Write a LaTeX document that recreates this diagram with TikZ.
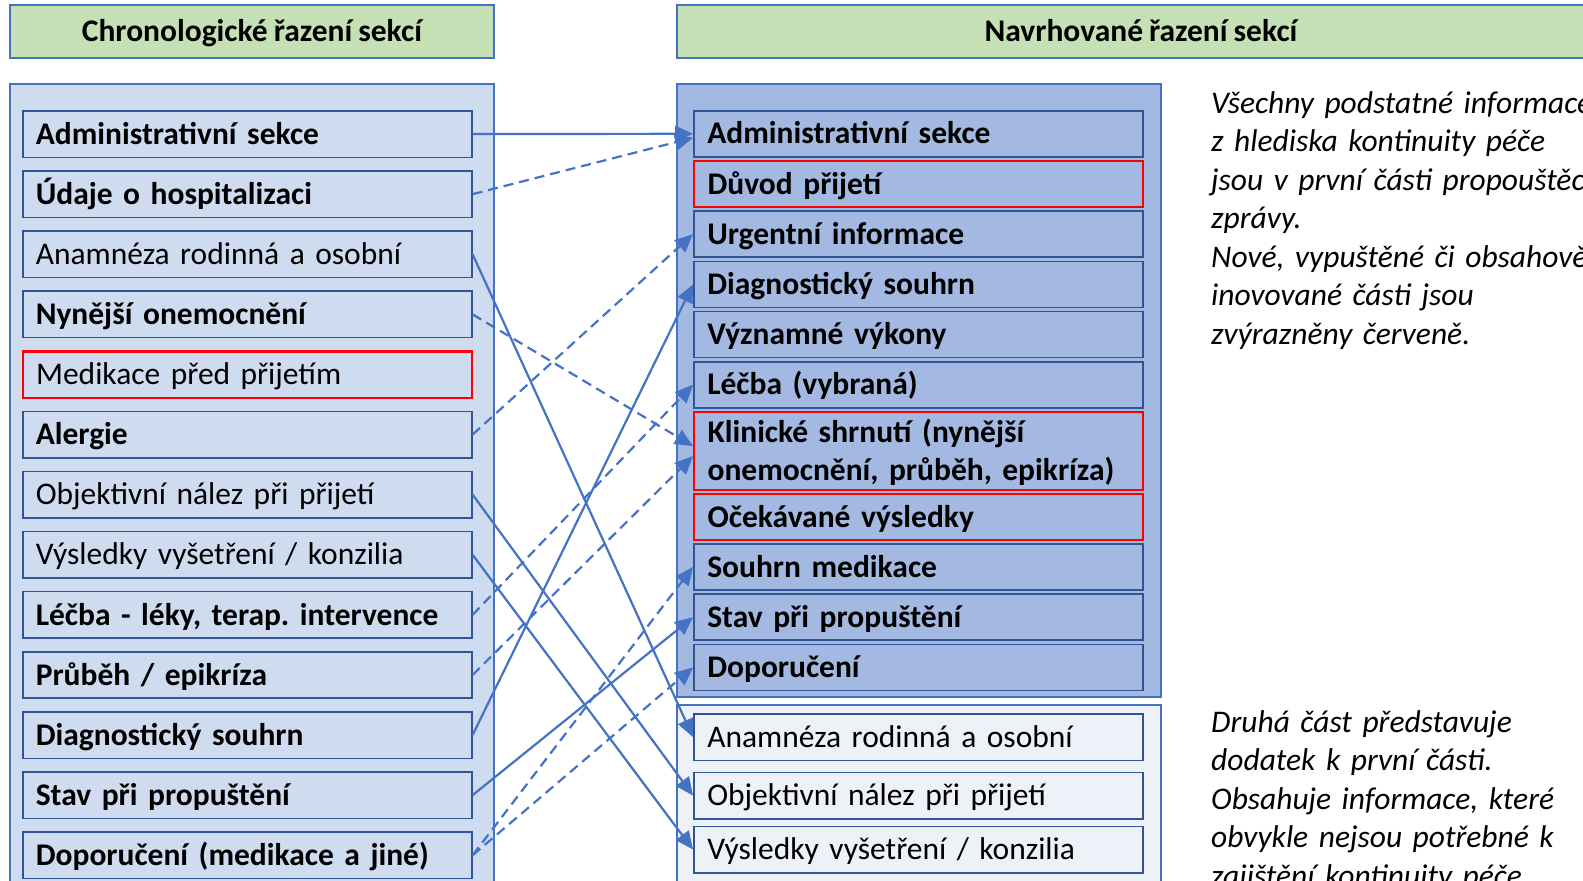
\documentclass[tikz,border=0pt]{standalone}
\usepackage{fontspec}
\setmainfont[WordSpace=0.85]{Carlito}
\usetikzlibrary{arrows.meta}
\frenchspacing

\definecolor{hdrgreen}{HTML}{C5E0B4}
\definecolor{frameblue}{HTML}{4472C4}
\definecolor{itemblue}{HTML}{2F5597}
\definecolor{leftfill}{HTML}{CFDBEF}
\definecolor{rightfill}{HTML}{A3B9E1}
\definecolor{lowfill}{HTML}{EEF1F8}
\definecolor{linkblue}{HTML}{4472C4}
\definecolor{flagred}{HTML}{FF0000}

\begin{document}
\begin{tikzpicture}[x=1pt,y=-1pt,
  font=\fontsize{31.5}{37.7}\selectfont,
  header/.style={draw=frameblue, line width=1.6pt, fill=hdrgreen, minimum height=53pt,
    inner sep=0pt, text height=20.3pt, text depth=0pt,
    font=\fontsize{31.5}{37.7}\selectfont\bfseries},
  item/.style={draw=itemblue, line width=1.6pt, anchor=north west, minimum height=46.5pt,
    inner xsep=13pt, inner ysep=0pt, text width=423pt, align=left,
    text height=20.3pt, text depth=0pt},
  litem/.style={item, fill=leftfill},
  ritem/.style={item, fill=rightfill, minimum height=46pt, inner xsep=13.5pt, text width=422pt},
  bitem/.style={item, fill=lowfill, inner xsep=13.5pt, text width=422pt},
  flagged/.style={draw=flagred, line width=2.2pt},
  bf/.style={font=\fontsize{31.5}{37.7}\selectfont\bfseries},
  frame/.style={draw=frameblue, line width=1.6pt},
  link/.style={draw=linkblue, line width=2.2pt, -{Triangle[length=18pt,width=16pt]}},
  dlink/.style={link, dash pattern=on 10pt off 6pt},
  note/.style={anchor=base west, align=left, inner sep=0pt, text width=600pt,
    font=\fontsize{31.5}{38.5}\selectfont\itshape},
]
\useasboundingbox (0,0) rectangle (1583,881);
\clip (0,0) rectangle (1583,881);

% column headers
\node[header, minimum width=484pt] (hleft) at (252,31.5) {Chronologické řazení sekcí};
\node[header, minimum width=928pt] (hright) at (1141,31.5) {Navrhované řazení sekcí};

% containers
\draw[frame, fill=leftfill]  (10,84)  rectangle (494,930);
\draw[frame, fill=rightfill] (677,84) rectangle (1161,697);
\draw[frame, fill=lowfill]   (677,705) rectangle (1161,930);

% chronological order
\node[litem, bf] (l1)  at (22,110.0) {Administrativní sekce};
\node[litem, bf] (l2)  at (22,170.1) {Údaje o hospitalizaci};
\node[litem]     (l3)  at (22,230.2) {Anamnéza rodinná a osobní};
\node[litem, bf] (l4)  at (22,290.3) {Nynější onemocnění};
\node[litem, flagged] (l5) at (22,350.4) {Medikace před přijetím};
\node[litem, bf] (l6)  at (22,410.5) {Alergie};
\node[litem]     (l7)  at (22,470.6) {Objektivní nález při přijetí};
\node[litem]     (l8)  at (22,530.7) {Výsledky vyšetření / konzilia};
\node[litem, bf] (l9)  at (22,590.8) {Léčba - léky, terap. intervence};
\node[litem, bf] (l10) at (22,650.9) {Průběh / epikríza};
\node[litem, bf] (l11) at (22,711.0) {Diagnostický souhrn};
\node[litem, bf] (l12) at (22,771.1) {Stav při propuštění};
\node[litem, bf] (l13) at (22,831.2) {Doporučení (medikace a jiné)};

% proposed order, first part
\node[ritem, bf] (r1)  at (693,110.0) {Administrativní sekce};
\node[ritem, bf, flagged] (r2) at (693,160.2) {Důvod přijetí};
\node[ritem, bf] (r3)  at (693,210.4) {Urgentní informace};
\node[ritem, bf] (r4)  at (693,260.6) {Diagnostický souhrn};
\node[ritem, bf] (r5)  at (693,310.8) {Významné výkony};
\node[ritem, bf] (r6)  at (693,361.0) {Léčba (vybraná)};
\node[ritem, bf, flagged, minimum height=77.6pt, text depth=37.7pt] (r7) at (693,411.2)
  {Klinické shrnutí (nynější\\onemocnění, průběh, epikríza)};
\node[ritem, bf, flagged] (r8) at (693,493.0) {Očekávané výsledky};
\node[ritem, bf] (r9)  at (693,543.2) {Souhrn medikace};
\node[ritem, bf] (r10) at (693,593.4) {Stav při propuštění};
\node[ritem, bf] (r11) at (693,643.6) {Doporučení};

% proposed order, second part
\node[bitem] (b1) at (693,713.0) {Anamnéza rodinná a osobní};
\node[bitem] (b2) at (693,771.5) {Objektivní nález při přijetí};
\node[bitem] (b3) at (693,825.5) {Výsledky vyšetření / konzilia};

% explanatory notes
\node[note] (n1) at (1211,113) {Všechny podstatné informace\\z hlediska kontinuity péče\\jsou v první části propouštěcí\\zprávy.\\Nové, vypuštěné či obsahově\\inovované části jsou\\zvýrazněny červeně.};
\node[note] (n2) at (1211,732) {Druhá část představuje\\dodatek k první části.\\Obsahuje informace, které\\obvykle nejsou potřebné k\\zajištění kontinuity péče};

% mapping between the two orders
\draw[link]  (l1.east)  -- (r1.west);
\draw[dlink] (l2.east)  -- ([yshift=-4pt]r1.west);
\draw[link]  (l3.east)  -- (b1.west);
\draw[dlink] (l4.east)  -- ([yshift=5pt]r7.west);
\draw[dlink] (l6.east)  -- (r3.west);
\draw[link]  (l7.east)  -- (b2.west);
\draw[link]  (l8.east)  -- (b3.west);
\draw[dlink] (l9.east)  -- (r6.west);
\draw[dlink] (l10.east) -- ([yshift=-5pt]r7.west);
\draw[link]  (l11.east) -- (r4.west);
\draw[link]  (l12.east) -- (r10.west);
\draw[dlink] (l13.east) -- (r9.west);
\draw[dlink] (l13.east) -- (r11.west);
\end{tikzpicture}
\end{document}
